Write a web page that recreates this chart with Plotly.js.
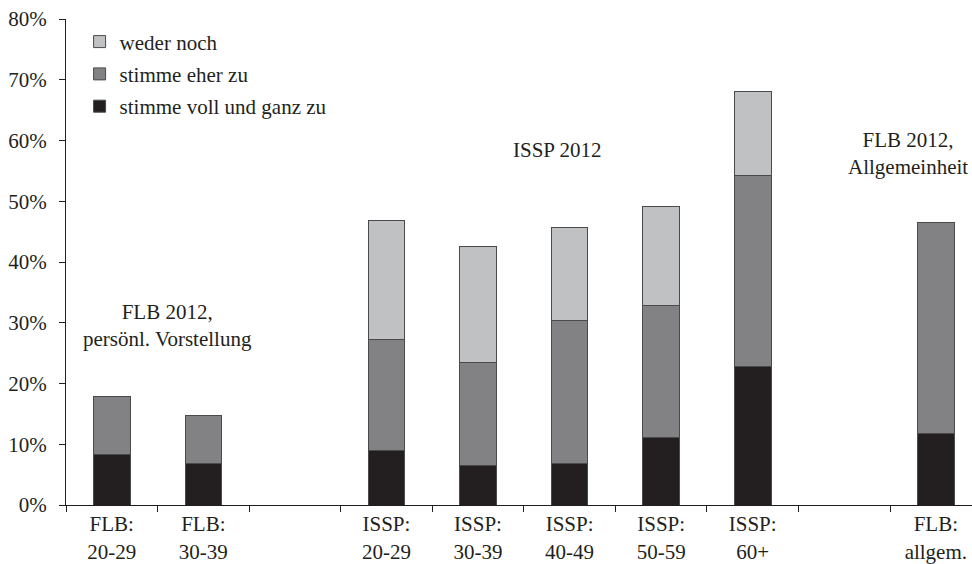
<!DOCTYPE html>
<html>
<head>
<meta charset="utf-8">
<script src="https://cdn.plot.ly/plotly-3.0.1.min.js"></script>
<style>html,body{margin:0;padding:0;background:#fff;}#chart{width:972px;height:564px;}</style>
</head>
<body>
<div id="chart"></div>
<script>
// Categories (blank slots separate the groups)
const categories = ['FLB:<br>20-29', 'FLB:<br>30-39', ' ', 'ISSP:<br>20-29', 'ISSP:<br>30-39',
  'ISSP:<br>40-49', 'ISSP:<br>50-59', 'ISSP:<br>60+', '  ', 'FLB:<br>allgem.'];
// Series values in percent
const volleZustimmung = [8.3, 6.9, null, 9.0, 6.5, 6.8, 11.1, 22.8, null, 11.8];
const eherZustimmung  = [9.6, 7.9, null, 18.3, 16.9, 23.6, 21.8, 31.4, null, 34.7];
const wederNoch       = [null, null, null, 19.6, 19.2, 15.2, 16.3, 13.8, null, null];
const seriesNames = ['stimme voll und ganz zu', 'stimme eher zu', 'weder noch'];
const yTicks = [0, 10, 20, 30, 40, 50, 60, 70, 80];
const yTickLabels = ['0%', '10%', '20%', '30%', '40%', '50%', '60%', '70%', '80%'];

const FONT = '"Liberation Serif", "Times New Roman", Times, serif';
const INK = '#231f20';
const outline = {color: '#4a4a4c', width: 1};

function barTrace(vals, name, color, group, rank) {
  return {
    type: 'bar', x: categories, y: vals, name: name, legendgroup: group, legendrank: rank,
    marker: {color: color, line: outline}, hoverinfo: 'x+y+name'
  };
}

const data = [
  barTrace(volleZustimmung, seriesNames[0], '#231f20', 'a', 3),
  barTrace(eherZustimmung, seriesNames[1], '#828285', 'b', 2),
  barTrace(wederNoch, seriesNames[2], '#c0c1c3', 'c', 1)
];

const layout = {
  width: 972, height: 564,
  margin: {l: 66, r: 0, t: 19, b: 59},
  paper_bgcolor: '#fff', plot_bgcolor: '#fff',
  font: {family: FONT, size: 21, color: INK},
  barmode: 'stack', bargap: 0.6,
  showlegend: true,
  legend: {
    x: 0.015, y: 0.995, xanchor: 'left', yanchor: 'top',
    traceorder: 'grouped', tracegroupgap: 2,
    bgcolor: 'rgba(0,0,0,0)', font: {family: FONT, size: 21, color: INK}
  },
  xaxis: {
    type: 'category', categoryorder: 'array', categoryarray: categories,
    range: [-0.5, 9.395],
    showline: true, linecolor: INK, linewidth: 1,
    ticks: 'outside', tickson: 'boundaries', ticklen: 6, tickcolor: INK, tickwidth: 1,
    showgrid: false, zeroline: false,
    tickfont: {family: FONT, size: 21, color: INK}
  },
  yaxis: {
    range: [0, 80], tickmode: 'array', tickvals: yTicks, ticktext: yTickLabels,
    showline: true, linecolor: INK, linewidth: 1,
    ticks: 'outside', ticklen: 6, tickcolor: INK, tickwidth: 1,
    showgrid: false, zeroline: false, ticklabelstandoff: 8,
    tickfont: {family: FONT, size: 21, color: INK}
  },
  annotations: [
    {xref: 'x', yref: 'y', x: 0.61, y: 29.6, text: 'FLB 2012,<br>persönl. Vorstellung', showarrow: false,
     font: {family: FONT, size: 21, color: INK}},
    {xref: 'x', yref: 'y', x: 4.87, y: 58.4, text: 'ISSP 2012', showarrow: false,
     font: {family: FONT, size: 21, color: INK}},
    {xref: 'x', yref: 'y', x: 8.70, y: 57.8, text: 'FLB 2012,<br>Allgemeinheit', showarrow: false,
     font: {family: FONT, size: 21, color: INK}}
  ]
};

Plotly.newPlot('chart', data, layout, {staticPlot: true, displayModeBar: false});
</script>
</body>
</html>
